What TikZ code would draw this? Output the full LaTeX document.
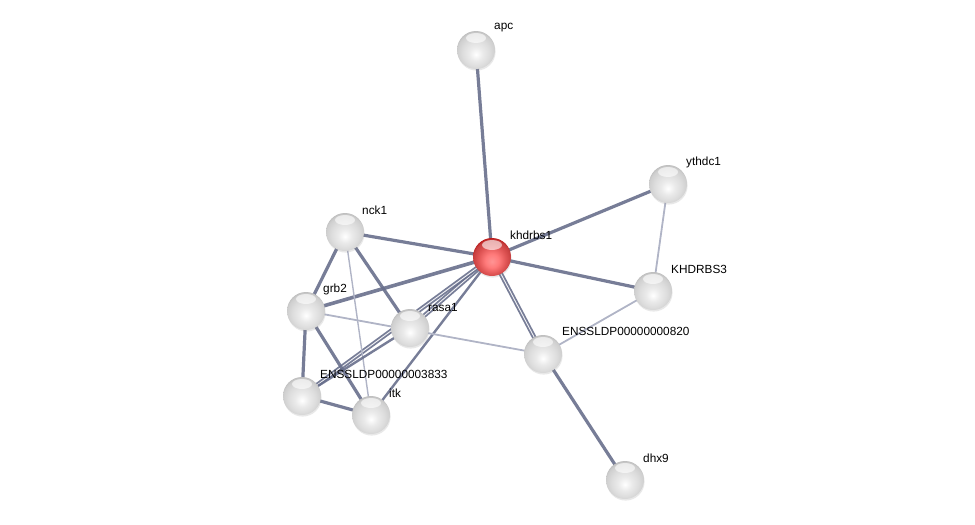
\documentclass[tikz,border=0pt]{standalone}
\usepackage{fontspec}
\setmainfont{Liberation Sans}
\usepackage{xcolor}
\usepackage{tikz}
\usetikzlibrary{backgrounds,shadows}
\definecolor{slate}{RGB}{104,111,140}
\definecolor{pale}{RGB}{176,180,198}
\pgfdeclareradialshading{glass}{\pgfpoint{0bp}{-6bp}}{%
  color(0bp)=(white); color(9bp)=(gray!16); color(18bp)=(gray!27);
  color(25bp)=(gray!38); color(30bp)=(gray!60); color(34bp)=(gray!85); color(50bp)=(gray!85)}
\pgfdeclareradialshading{glassred}{\pgfpoint{0bp}{-6bp}}{%
  color(0bp)=(red!42!white); color(9bp)=(red!52!white); color(18bp)=(red!62!white!88!black);
  color(25bp)=(red!68!white!78!black); color(30bp)=(red!70!black); color(34bp)=(red!50!black);
  color(50bp)=(red!50!black)}

\begin{document}
\begin{tikzpicture}[
            x=1pt, y=-1pt,
            ball/.style={circle, minimum size=38pt, inner sep=0pt, shading=glass,
            drop shadow={opacity=0.18, shadow xshift=0.6pt, shadow yshift=-1.6pt},
            path picture={\fill[white, opacity=0.6]
              ([yshift=-7pt]path picture bounding box.north) ellipse (10pt and 5pt);}},
            hub/.style={ball, shading=glassred},
            lab/.style={anchor=west, inner sep=0pt, font=\fontsize{11.8}{13}\selectfont},
            edge/.style={line width=3.2pt, slate, opacity=0.9},
            faint/.style={line width=1.8pt, pale},
            twin/.style={edge, line width=1.8pt, double=white, double distance=0.9pt},
        ]
            \useasboundingbox (0,0) rectangle (975,525);

            %% Proteine
            \node[ball] (apc)    at (476,50)  {};
            \node[hub]  (khdrbs) at (492,257) {};
            \node[ball] (ythdc)  at (668,184) {};
            \node[ball] (khdrbs3) at (653,291) {};
            \node[ball] (e820)   at (543,354) {};
            \node[ball] (dhx)    at (625,480) {};
            \node[ball] (nck)    at (345,232) {};
            \node[ball] (grb)    at (306,311) {};
            \node[ball] (rasa)   at (410,328) {};
            \node[ball] (e3833)  at (302,396) {};
            \node[ball] (itk)    at (371,415) {};

            %% Beschriftungen
            \node[lab] (apcl)     at ([shift={(18,-22)}]apc)     {apc};
            \node[lab] (khdrbsl)  at ([shift={(18,-22)}]khdrbs)  {khdrbs1};
            \node[lab] (ythdcl)   at ([shift={(18,-22)}]ythdc)   {ythdc1};
            \node[lab] (khdrbs3l) at ([shift={(18,-22)}]khdrbs3) {KHDRBS3};
            \node[lab] (e820l)    at ([shift={(19,-23)}]e820)    {ENSSLDP00000000820};
            \node[lab] (dhxl)     at ([shift={(18,-22)}]dhx)     {dhx9};
            \node[lab] (nckl)     at ([shift={(17,-22)}]nck)     {nck1};
            \node[lab] (grbl)     at ([shift={(17,-22)}]grb)     {grb2};
            \node[lab] (rasal)    at ([shift={(18,-21)}]rasa)    {rasa1};
            \node[lab] (e3833l)   at ([shift={(18,-22)}]e3833)   {ENSSLDP00000003833};
            \node[lab] (itkl)     at ([shift={(18,-22)}]itk)     {itk};

            %% Kanten
            \begin{scope}[on background layer]
                \draw[edge] (khdrbs.center) -- (apc.center);
                \draw[edge] (khdrbs.center) -- (ythdc.center);
                \draw[edge] (khdrbs.center) -- (khdrbs3.center);
                \draw[twin] (khdrbs.center) -- (e820.center);
                \draw[edge] (khdrbs.center) -- (nck.center);
                \draw[edge, line width=3.6pt] (khdrbs.center) -- (grb.center);
                \draw[twin] (khdrbs.center) -- (rasa.center);
                \draw[twin] (khdrbs.center) -- (e3833.center);
                \draw[edge, line width=2.4pt] (khdrbs.center) -- (itk.center);
                \draw[faint] (ythdc.center) -- (khdrbs3.center);
                \draw[faint] (khdrbs3.center) -- (e820.center);
                \draw[edge] (e820.center) -- (dhx.center);
                \draw[faint] (grb.center) -- (e820.center);
                \draw[edge] (nck.center) -- (grb.center);
                \draw[edge] (nck.center) -- (rasa.center);
                \draw[faint, line width=1.4pt] (nck.center) -- (itk.center);
                \draw[edge] (grb.center) -- (e3833.center);
                \draw[edge] (grb.center) -- (itk.center);
                \draw[edge] (e3833.center) -- (itk.center);
                \draw[edge, line width=2.4pt] (rasa.center) -- (e3833.center);
            \end{scope}

        \end{tikzpicture}
\end{document}
